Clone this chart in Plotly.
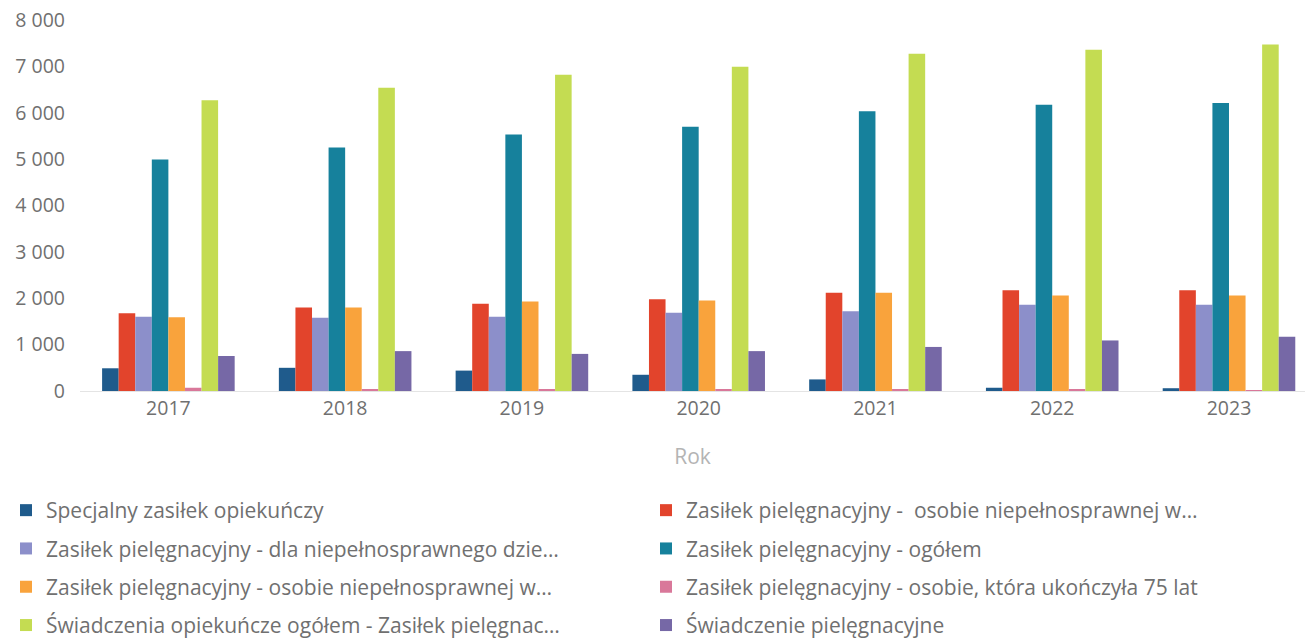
import plotly.graph_objects as go

# Lata (oś X)
years = ["2017", "2018", "2019", "2020", "2021", "2022", "2023"]

# Serie danych
specjalny_zasilek = [490, 500, 440, 350, 250, 70, 60]
zasilek_osobie_niepelnosprawnej_w = [1675, 1800, 1880, 1980, 2120, 2170, 2170]
zasilek_dla_dziecka = [1600, 1580, 1600, 1690, 1720, 1860, 1860]
zasilek_ogolem = [4990, 5250, 5530, 5700, 6030, 6170, 6210]
zasilek_osobie_niepelnosprawnej_w2 = [1590, 1800, 1930, 1950, 2120, 2060, 2060]
zasilek_75_lat = [70, 40, 30, 40, 40, 40, 20]
swiadczenia_ogolem = [6270, 6540, 6820, 6990, 7270, 7360, 7470]
swiadczenie_pielegnacyjne = [755, 860, 800, 860, 950, 1090, 1170]

series_names = [
    "Specjalny zasiłek opiekuńczy",
    "Zasiłek pielęgnacyjny -  osobie niepełnosprawnej w…",
    "Zasiłek pielęgnacyjny - dla niepełnosprawnego dzie…",
    "Zasiłek pielęgnacyjny - ogółem",
    "Zasiłek pielęgnacyjny - osobie niepełnosprawnej w…",
    "Zasiłek pielęgnacyjny - osobie, która ukończyła 75 lat",
    "Świadczenia opiekuńcze ogółem - Zasiłek pielęgnac…",
    "Świadczenie pielęgnacyjne",
]
series_values = [
    specjalny_zasilek,
    zasilek_osobie_niepelnosprawnej_w,
    zasilek_dla_dziecka,
    zasilek_ogolem,
    zasilek_osobie_niepelnosprawnej_w2,
    zasilek_75_lat,
    swiadczenia_ogolem,
    swiadczenie_pielegnacyjne,
]
series_colors = [
    "#1f5b8c", "#e2442c", "#8c8fca", "#16819c",
    "#f9a33c", "#d9789a", "#c4dc52", "#7668a6",
]

FONT = "Open Sans"
W, H = 1305, 639
ML, MR, MT, MB = 80, 0, 20, 248
PLOT_W = W - ML - MR

fig = go.Figure()
for i, (name, vals, col) in enumerate(zip(series_names, series_values, series_colors)):
    fig.add_trace(go.Bar(
        x=years, y=vals, name=name,
        marker=dict(color=col, line=dict(width=0)),
        legend="legend" if i % 2 == 0 else "legend2",
        legendgroup=f"g{i}",
    ))

# two legend columns; vertical position in container coordinates
legend_common = dict(
    orientation="v",
    xref="paper",
    yref="container",
    yanchor="top",
    y=1 - 490 / H,
    xanchor="left",
    font=dict(family=FONT, size=21, color="#707070"),
    tracegroupgap=8,
    bgcolor="rgba(0,0,0,0)",
)

fig.update_layout(
    width=W,
    height=H,
    margin=dict(l=ML, r=MR, t=MT, b=MB),
    paper_bgcolor="white",
    plot_bgcolor="white",
    separators=", ",
    barmode="group",
    bargap=0.25,
    bargroupgap=0,
    font=dict(family=FONT, color="#707070"),
    legend=dict(x=(6 - ML) / PLOT_W, **legend_common),
    legend2=dict(x=(646 - ML) / PLOT_W, **legend_common),
    xaxis=dict(
        range=[-0.5, 6.43],
        showline=True,
        linecolor="#e4e4e4",
        linewidth=1,
        ticks="",
        tickfont=dict(family=FONT, size=19.5, color="#707070"),
        title=dict(text="Rok", font=dict(family=FONT, size=21, color="#b4b4b4"), standoff=28),
    ),
    yaxis=dict(
        range=[0, 8000],
        dtick=1000,
        tickformat=",d",
        showgrid=False,
        zeroline=False,
        tickfont=dict(family=FONT, size=19.5, color="#707070"),
        ticklabelstandoff=14,
    ),
)

fig.write_html("out.html")
